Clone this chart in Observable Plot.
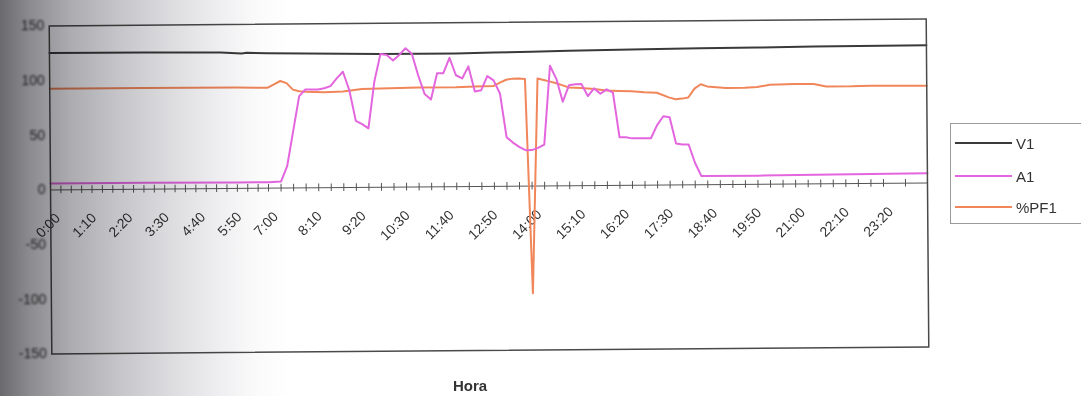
<!DOCTYPE html>
<html>
<head>
<meta charset="utf-8">
<script src="https://cdn.jsdelivr.net/npm/d3@7"></script>
<script src="https://cdn.jsdelivr.net/npm/@observablehq/plot@0.6"></script>
<style>
  html, body { margin: 0; padding: 0; background: #fff; }
  body { width: 1081px; height: 396px; position: relative; overflow: hidden;
         font-family: "Liberation Sans", Arial, sans-serif; }
  #chart { position: absolute; left: 0; top: 0; transform: rotate(-0.45deg); transform-origin: 490px 186px; }
  #chart g[aria-label="y-axis tick label"] { filter: blur(1.1px); }
  #legend { position: absolute; left: 950px; top: 123px; width: 140px; height: 101px;
            border: 1px solid #9a9a9a; box-sizing: border-box; background: #fff; }
  .item { position: absolute; left: 4px; height: 18px; display: flex; align-items: center;
          font-size: 15px; color: #333; }
  .sw { width: 57px; height: 2px; margin-right: 4px; }
  #xlabel { position: absolute; left: 453px; top: 377px; font-size: 15px; font-weight: bold; color: #333; }
  #shade { position: absolute; left: 0; top: 0; width: 1081px; height: 396px; pointer-events: none;
           mix-blend-mode: multiply;
           background: linear-gradient(to right, #6a6a6e 0px, #8c8c90 30px, #acacb0 70px, #c6c6ca 120px,
                       #dcdcdf 170px, #ededf0 215px, #fafafa 255px, #ffffff 290px); }
</style>
</head>
<body>
<div id="chart"></div>
<div id="legend"></div>
<div id="xlabel">Hora</div>
<div id="shade"></div>
<script>
// ---- data ----
const horaLabels = ["0:00","1:10","2:20","3:30","4:40","5:50","7:00","8:10","9:20","10:30","11:40",
                    "12:50","14:00","15:10","16:20","17:30","18:40","19:50","21:00","22:10","23:20"];
const yTicks = [-150, -100, -50, 0, 50, 100, 150];

const v1Hora = ["0:00","3:00","5:30","6:10","6:20","7:00","8:00","9:00","10:00","12:00","13:00",
                "14:00","15:00","16:00","17:00","18:30","20:00","21:30","24:00"];
const v1 = [125.2,125,124.5,123.5,124,123.5,123,122.5,122,122,122.5,123,123.5,124,124.5,125,125.2,125.8,126];

const a1Hora = ["0:00","3:00","6:00","7:00","7:20","7:30","7:40","7:50","8:00","8:10","8:20","8:30","8:40",
  "8:50","9:00","9:10","9:20","9:30","9:40","9:50","10:00","10:10","10:20","10:30","10:40","10:50",
  "11:00","11:10","11:20","11:30","11:40","11:50","12:00","12:10","12:20","12:30","12:40","12:50",
  "13:00","13:10","13:20","13:30","13:40","13:50","14:00","14:10","14:20","14:30","14:40","14:50",
  "15:00","15:10","15:20","15:30","15:40","15:50","16:00","16:10","16:20","16:30","16:40","16:50",
  "17:00","17:10","17:20","17:30","17:40","17:50","18:00","18:10","18:20","18:30","20:00","22:00","24:00"];
const a1 = [6,6,5.5,5.5,6,20,52,84,90,90,90,91,93,
  100,106,89,61,58,54,97,122,121,116,121,127,122,
  102,85,80,104,104,118,102,99,110,87,88,101,
  97,85,45,40,36,33,33,35,38,110,98,77,
  92,93,93,82,89,84,88,85,44,44,43,43,
  43,43,55,63,62,38,37,37,20,8,8,8.5,9];

const pfHora = ["0:00","3:00","6:00","6:50","7:00","7:10","7:20","7:30","7:40","7:50","8:00","8:30","9:00",
  "9:30","10:00","11:00","12:00","12:30","13:00","13:10","13:20","13:30","13:40","13:50","14:00","14:10",
  "14:20","14:30","14:40","14:50","15:00","15:20","15:40","16:00","16:20","16:40","17:00","17:20",
  "17:40","17:50","18:00","18:10","18:20","18:30","18:40","18:50","19:10","19:40","20:00","20:20",
  "21:00","21:30","21:50","22:30","23:00","24:00"];
const pf1 = [92.5,92.5,92.3,92,92,95,98,96,90,88.5,88,87.5,88,
  90,90.5,91,91,91.5,92,95,97.5,98.5,98.5,98,-98,98.5,
  97,95.5,94,92,90,89.5,88.5,87,86.5,86,85,84.5,
  80,78.5,79,80,88,92,90,89.5,88.5,88.5,89,91,
  91.5,91.5,89,89,89.5,89];

const seriesNames = ["V1", "A1", "%PF1"];
const seriesColors = ["#3a3a3a", "#e466df", "#f0865a"];

// ---- build ----
const toMin = s => { const [h, m] = s.split(":").map(Number); return h * 60 + m; };
const rows = (hora, vals) => hora.map((h, i) => ({t: toMin(h), v: vals[i]}));
const dV1 = rows(v1Hora, v1), dA1 = rows(a1Hora, a1), dPF = rows(pfHora, pf1);
const tickMins = d3.range(0, 1441, 20);
const font = "'Liberation Sans', Arial, sans-serif";

const chart = Plot.plot({
  width: 1081, height: 396,
  marginLeft: 50, marginRight: 154, marginTop: 22, marginBottom: 46,
  x: {type: "linear", domain: [0, 420, 1400, 1440], range: [50, 268, 883, 927], axis: null},
  y: {domain: [-150, 150]},
  style: {background: "transparent", fontFamily: font, fontSize: "14px", overflow: "visible"},
  marks: [
    Plot.axisY({ticks: yTicks, tickSize: 0, tickPadding: 5, fontSize: 14, fill: "#333", label: null,
      tickFormat: d => String(d)}),
    Plot.ruleY([0], {stroke: "#555", strokeWidth: 1}),
    Plot.ruleX(tickMins, {x: d => d, y1: -3.5, y2: 3.5, stroke: "#555", strokeWidth: 1}),
    Plot.text(horaLabels, {x: d => toMin(d), y: 0, text: d => d, rotate: -45, textAnchor: "end",
      dx: 7, dy: 26, fontSize: 14, fill: "#333"}),
    Plot.line(dV1, {x: "t", y: "v", stroke: seriesColors[0], strokeWidth: 2}),
    Plot.line(dPF, {x: "t", y: "v", stroke: seriesColors[2], strokeWidth: 2}),
    Plot.line(dA1, {x: "t", y: "v", stroke: seriesColors[1], strokeWidth: 2}),
    Plot.frame({stroke: "#4a4a4a", strokeWidth: 1.5})
  ]
});
document.getElementById("chart").append(chart);

const legend = document.getElementById("legend");
const tops = [10, 43, 74];
seriesNames.forEach((n, i) => {
  const it = document.createElement("div");
  it.className = "item";
  it.style.top = tops[i] + "px";
  it.innerHTML = `<span class="sw" style="background:${seriesColors[i]}"></span><span>${n}</span>`;
  legend.append(it);
});
</script>
</body>
</html>
